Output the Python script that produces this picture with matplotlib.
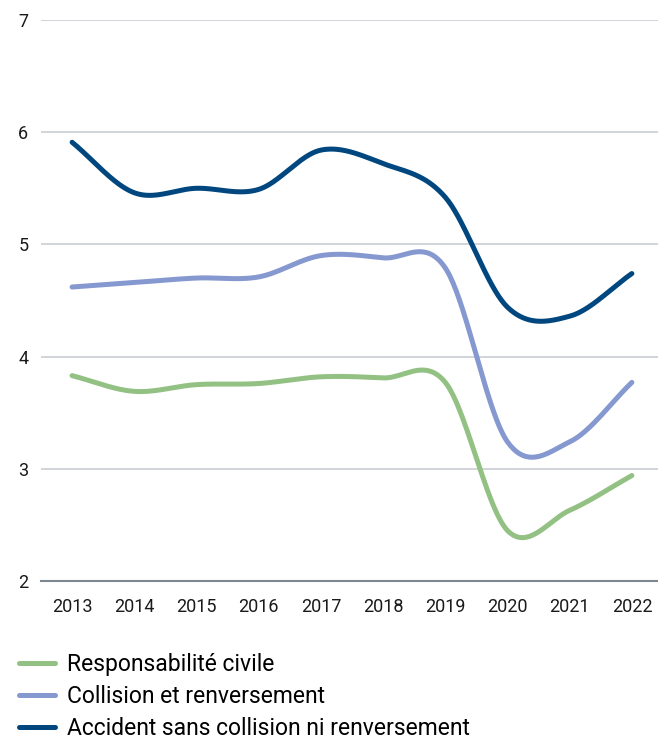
import matplotlib.pyplot as plt
import numpy as np

plt.rcParams['font.family'] = ['Roboto', 'DejaVu Sans']

years = [2013, 2014, 2015, 2016, 2017, 2018, 2019, 2020, 2021, 2022]
resp_civile = [3.83, 3.69, 3.75, 3.76, 3.82, 3.81, 3.77, 2.45, 2.63, 2.94]
collision = [4.62, 4.66, 4.70, 4.71, 4.90, 4.88, 4.79, 3.24, 3.24, 3.77]
accident = [5.91, 5.46, 5.50, 5.49, 5.84, 5.72, 5.42, 4.44, 4.36, 4.74]

labels = ['Responsabilité civile', 'Collision et renversement',
          'Accident sans collision ni renversement']
colors = ['#93c183', '#8598cf', '#00477f']


def smooth(x, y, n=40):
    # catmull-rom, like a spreadsheet "smoothed line"
    x = np.asarray(x, float)
    y = np.asarray(y, float)
    m = np.zeros_like(y)
    m[1:-1] = (y[2:] - y[:-2]) / 2
    m[0] = y[1] - y[0]
    m[-1] = y[-1] - y[-2]
    xs, ys = [], []
    for i in range(len(x) - 1):
        t = np.linspace(0, 1, n, endpoint=False)
        h00 = 2 * t**3 - 3 * t**2 + 1
        h10 = t**3 - 2 * t**2 + t
        h01 = -2 * t**3 + 3 * t**2
        h11 = t**3 - t**2
        xs.append(x[i] + t * (x[i + 1] - x[i]))
        ys.append(h00 * y[i] + h10 * m[i] + h01 * y[i + 1] + h11 * m[i + 1])
    xs.append([x[-1]])
    ys.append([y[-1]])
    return np.concatenate(xs), np.concatenate(ys)


fig = plt.figure(figsize=(6.58, 7.39), dpi=100)
ax = fig.add_axes([0.0623, 0.2138, 0.9377, 0.7592])

for vals, lab, c in zip([resp_civile, collision, accident], labels, colors):
    sx, sy = smooth(years, vals)
    ax.plot(sx, sy, color=c, lw=3.6, label=lab, solid_capstyle='round')

ax.set_ylim(2, 7)
ax.set_xlim(2012.5, 2022.42)
ax.set_yticks(range(2, 8))
ax.set_xticks(years)
ax.set_xticklabels([str(y) for y in years])
for v in range(3, 8):
    ax.axhline(v, color='#c9ced3', lw=1.2, zorder=0)
for s in ['top', 'right', 'left']:
    ax.spines[s].set_visible(False)
ax.spines['bottom'].set_color('#7d878f')
ax.spines['bottom'].set_linewidth(1.5)
ax.tick_params(axis='both', length=0, labelsize=13, colors='#1a1a1a')
ax.tick_params(axis='y', pad=9)
ax.tick_params(axis='x', pad=12)

fig.legend(loc='upper left', bbox_to_anchor=(0.015, 0.129), frameon=False,
           fontsize=16.5, handlelength=1.55, handletextpad=0.55, labelspacing=0.4,
           borderaxespad=0)

fig.savefig('out.png', dpi=100)
